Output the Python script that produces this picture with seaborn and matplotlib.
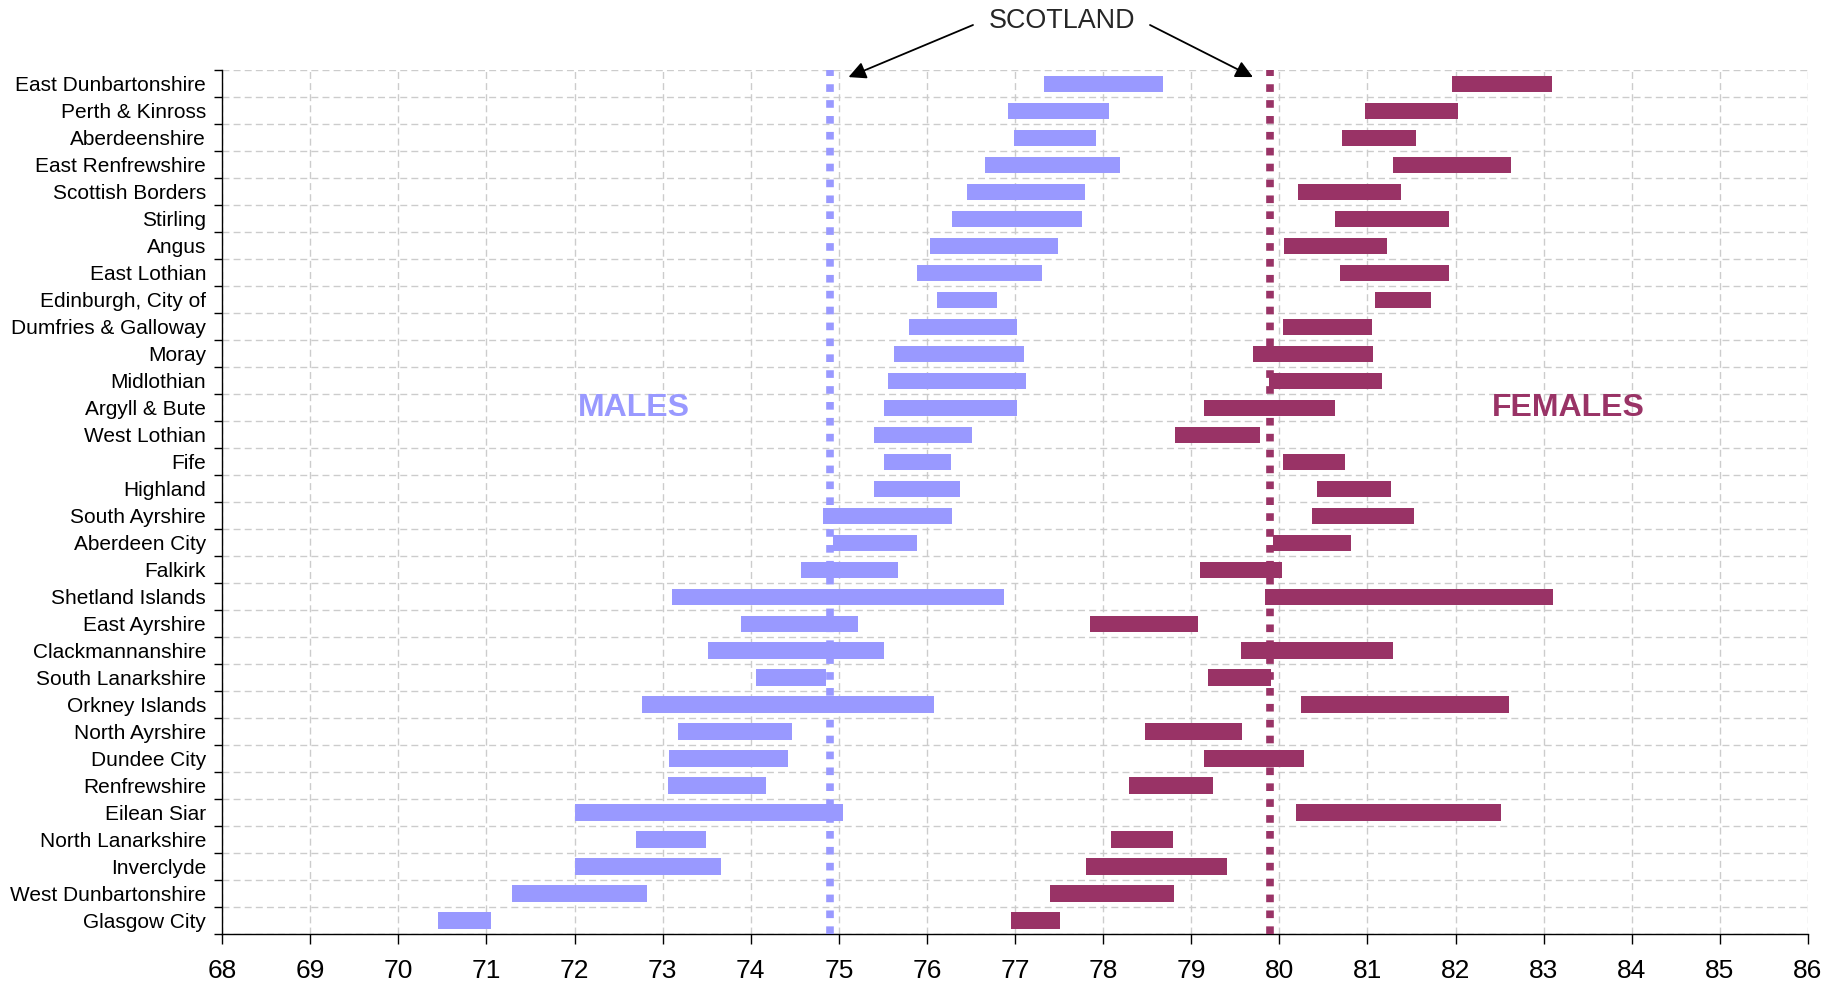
import numpy as np
import pandas as pd
import matplotlib.pyplot as plt
import seaborn as sns

# -------------------------------
# Data (life expectancy ranges by council area)
# -------------------------------

areas = [
    "East Dunbartonshire", "Perth & Kinross", "Aberdeenshire", "East Renfrewshire",
    "Scottish Borders", "Stirling", "Angus", "East Lothian", "Edinburgh, City of",
    "Dumfries & Galloway", "Moray", "Midlothian", "Argyll & Bute", "West Lothian",
    "Fife", "Highland", "South Ayrshire", "Aberdeen City", "Falkirk",
    "Shetland Islands", "East Ayrshire", "Clackmannanshire", "South Lanarkshire",
    "Orkney Islands", "North Ayrshire", "Dundee City", "Renfrewshire",
    "Eilean Siar", "North Lanarkshire", "Inverclyde", "West Dunbartonshire",
    "Glasgow City",
]

male_low = [77.33, 76.92, 76.99, 76.66, 76.46, 76.28, 76.04, 75.89, 76.11, 75.80,
            75.63, 75.56, 75.51, 75.40, 75.51, 75.40, 74.82, 74.93, 74.57, 73.11,
            73.89, 73.51, 74.06, 72.77, 73.17, 73.07, 73.06, 72.00, 72.70, 72.00,
            71.29, 70.45]
male_high = [78.68, 78.07, 77.92, 78.19, 77.79, 77.76, 77.49, 77.31, 76.79, 77.02,
             77.10, 77.12, 77.02, 76.51, 76.27, 76.38, 76.28, 75.89, 75.67, 76.87,
             75.22, 75.51, 74.86, 76.08, 74.47, 74.42, 74.17, 75.05, 73.49, 73.66,
             72.82, 71.05]

female_low = [81.96, 80.97, 80.71, 81.29, 80.21, 80.63, 80.05, 80.69, 81.09, 80.04,
              79.70, 79.88, 79.15, 78.81, 80.04, 80.43, 80.37, 79.93, 79.10, 79.84,
              77.85, 79.56, 79.19, 80.25, 78.47, 79.15, 78.29, 80.19, 78.09, 77.80,
              77.40, 76.95]
female_high = [83.10, 82.03, 81.55, 82.63, 81.38, 81.93, 81.22, 81.93, 81.72, 81.05,
               81.06, 81.16, 80.63, 79.78, 80.74, 81.27, 81.53, 80.81, 80.03, 83.11,
               79.08, 81.29, 79.90, 82.61, 79.58, 80.28, 79.25, 82.52, 78.79, 79.41,
               78.80, 77.51]

scotland_male = 74.90
scotland_female = 79.89

MALE_COLOR = "#9999FF"
FEMALE_COLOR = "#993366"

df = pd.DataFrame({
    "area": areas,
    "male_low": male_low,
    "male_high": male_high,
    "female_low": female_low,
    "female_high": female_high,
})
df["male_span"] = df["male_high"] - df["male_low"]
df["female_span"] = df["female_high"] - df["female_low"]

# -------------------------------
# Plot
# -------------------------------

sns.set_theme(style="white")
plt.rcParams["font.family"] = ["Liberation Sans", "DejaVu Sans"]

fig, ax = plt.subplots(figsize=(18.43, 9.85), dpi=100)
fig.subplots_adjust(left=0.1205, right=0.981, top=0.9286, bottom=0.0518)

sns.barplot(data=df, x="male_span", y="area", order=areas,
            left=df["male_low"].to_numpy(), color=MALE_COLOR, saturation=1,
            width=0.6, errorbar=None, linewidth=0, zorder=2, ax=ax)
sns.barplot(data=df, x="female_span", y="area", order=areas,
            left=df["female_low"].to_numpy(), color=FEMALE_COLOR, saturation=1,
            width=0.6, errorbar=None, linewidth=0, zorder=2, ax=ax)

# Scotland averages
for val, col in [(scotland_male, MALE_COLOR), (scotland_female, FEMALE_COLOR)]:
    ax.axvline(val, color=col, lw=5.5, linestyle=(0, (1, 1.08)),
               dash_capstyle="butt", zorder=3)

n = len(areas)
ax.set_xlim(68, 86)
ax.set_ylim(n - 0.5, -0.5)
ax.set_xticks(range(68, 87))
ax.set_yticks(range(n))
ax.set_yticklabels(areas)
ax.set_yticks(np.arange(-0.5, n, 1), minor=True)
ax.set_xlabel("")
ax.set_ylabel("")

ax.set_axisbelow(True)
ax.grid(axis="x", which="major", color="#cccccc", lw=1.0, linestyle=(0, (5, 3)))
ax.grid(axis="y", which="minor", color="#cccccc", lw=1.0, linestyle=(0, (5, 3)))
ax.grid(axis="y", which="major", visible=False)

for side in ["top", "right"]:
    ax.spines[side].set_visible(False)
for side in ["left", "bottom"]:
    ax.spines[side].set_color("black")
    ax.spines[side].set_linewidth(1.0)

ax.tick_params(axis="x", which="major", bottom=True, length=7, width=1,
               color="black", labelsize=19, pad=11, labelcolor="black")
ax.tick_params(axis="y", which="major", left=False, length=0,
               labelsize=15, pad=11.5, labelcolor="black")
ax.tick_params(axis="y", which="minor", left=True, length=6, width=1, color="black")

# Labels
ax.text(72.67, 12, "MALES", color=MALE_COLOR, fontsize=23, fontweight="bold",
        ha="center", va="center")
ax.text(83.28, 12, "FEMALES", color=FEMALE_COLOR, fontsize=23, fontweight="bold",
        ha="center", va="center")

fig.text(1062 / 1843, 1 - 21 / 985, "SCOTLAND", fontsize=19.4,
         ha="center", va="center")
arrow = dict(arrowstyle="-|>", color="black", lw=1.3, mutation_scale=26,
             shrinkA=0, shrinkB=0)
ax.annotate("", xy=(75.11, -0.25), xycoords="data",
            xytext=(973 / 1843, 1 - 25 / 985), textcoords="figure fraction",
            arrowprops=arrow, annotation_clip=False)
ax.annotate("", xy=(79.70, -0.25), xycoords="data",
            xytext=(1150 / 1843, 1 - 25 / 985), textcoords="figure fraction",
            arrowprops=arrow, annotation_clip=False)

fig.savefig("out.png", dpi=100)
plt.close(fig)
